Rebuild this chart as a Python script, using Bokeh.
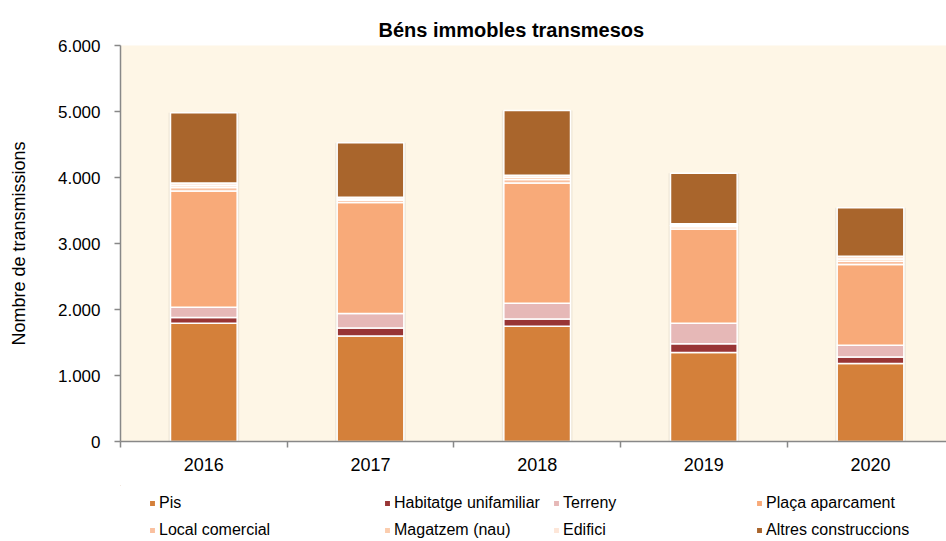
from bokeh.plotting import figure
from bokeh.models import Range1d, FixedTicker, Legend, LegendItem, ColumnDataSource
from bokeh.layouts import column
from bokeh.embed import file_html
from bokeh.resources import INLINE

years = ["2016", "2017", "2018", "2019", "2020"]
pis = [1790, 1600, 1745, 1350, 1180]
habitatge = [90, 120, 110, 130, 100]
terreny = [155, 220, 240, 310, 180]
placa = [1760, 1680, 1820, 1430, 1220]
local = [55, 35, 55, 35, 50]
magatzem = [30, 20, 35, 20, 35]
edifici = [35, 25, 30, 25, 40]
altres = [1065, 825, 980, 765, 735]

series_names = ["Pis", "Habitatge unifamiliar", "Terreny", "Plaça aparcament",
                "Local comercial", "Magatzem (nau)", "Edifici", "Altres construccions"]
series_keys = ["pis", "habitatge", "terreny", "placa", "local", "magatzem", "edifici", "altres"]
colors = ["#D4803A", "#983535", "#E6B8B7", "#F8AA79", "#FAC09F", "#FBCDAE", "#FDE6D8", "#A9652C"]

y_ticks = [0, 1000, 2000, 3000, 4000, 5000, 6000]
y_tick_labels = ["0", "1.000", "2.000", "3.000", "4.000", "5.000", "6.000"]

FONT = "Liberation Sans"

xpos = [i + 0.5 for i in range(len(years))]
data = dict(x=xpos, pis=pis, habitatge=habitatge, terreny=terreny, placa=placa,
            local=local, magatzem=magatzem, edifici=edifici, altres=altres)
data["total"] = [sum(v) for v in zip(pis, habitatge, terreny, placa, local, magatzem, edifici, altres)]
source = ColumnDataSource(data)

p = figure(width=946, height=485, output_backend="svg", toolbar_location=None,
           x_range=Range1d(0, 4.956), y_range=Range1d(0, 6000),
           min_border_left=120, min_border_right=0, min_border_top=45, min_border_bottom=44)
p.background_fill_color = "#FEF6E6"
p.border_fill_color = "white"
p.outline_line_color = None
p.xgrid.visible = False
p.ygrid.visible = False

# title
p.title.text = "Béns immobles transmesos"
p.title.text_font = FONT
p.title.text_font_size = "20px"
p.title.text_font_style = "bold"
p.title.align = "left"
p.title.offset = 258
p.title.standoff = 9
p.title.text_color = "black"

# shadow
p.vbar(x="x", top="total", bottom=0, width=0.425, source=source,
       fill_color="black", fill_alpha=0.06, line_color=None)

p.vbar_stack(series_keys, x="x", width=0.4, source=source,
             color=colors, line_color="white", line_width=1.5)

# y axis
ya = p.yaxis[0]
ya.ticker = FixedTicker(ticks=y_ticks, minor_ticks=[])
ya.major_label_overrides = {t: l for t, l in zip(y_ticks, y_tick_labels)}
ya.axis_line_color = "#888888"
ya.axis_line_width = 1.5
ya.major_tick_line_color = "#888888"
ya.major_tick_line_width = 1.5
ya.major_tick_out = 6
ya.major_tick_in = 0
ya.minor_tick_line_color = None
ya.major_label_text_font = FONT
ya.major_label_text_font_size = "17px"
ya.major_label_text_color = "black"
ya.major_label_standoff = 14
ya.axis_label = "Nombre de transmissions"
ya.axis_label_text_font = FONT
ya.axis_label_text_font_size = "18px"
ya.axis_label_text_font_style = "normal"
ya.axis_label_text_color = "black"
ya.axis_label_standoff = 26

# x axis
xa = p.xaxis[0]
xa.ticker = FixedTicker(ticks=xpos, minor_ticks=[i for i in range(len(years) + 1)])
xa.major_label_overrides = {x: y for x, y in zip(xpos, years)}
xa.axis_line_color = "#888888"
xa.axis_line_width = 1.5
xa.major_tick_line_color = None
xa.major_tick_out = 0
xa.major_tick_in = 0
xa.minor_tick_line_color = "#888888"
xa.minor_tick_line_width = 1.5
xa.minor_tick_out = 6
xa.minor_tick_in = 0
xa.major_label_text_font = FONT
xa.major_label_text_font_size = "18px"
xa.major_label_text_color = "black"
xa.major_label_standoff = 10

# legend strip (separate figure so the legend columns can be placed freely)
lg = figure(width=946, height=56, output_backend="svg", toolbar_location=None,
            x_range=Range1d(100, 101), y_range=Range1d(-20000, -10000),
            min_border_left=0, min_border_right=0, min_border_top=0, min_border_bottom=0,
            x_axis_location=None, y_axis_location=None)
lg.outline_line_color = None
lg.background_fill_color = "white"
lg.border_fill_color = "white"
lg.xgrid.visible = False
lg.ygrid.visible = False
lg_renderers = lg.vbar_stack(series_keys, x="x", width=0.4, source=source,
                             color=colors, line_color="white", line_width=1.5)

# column offsets measured from the (aligned) plot frame's left edge
col_x = [28, 263, 432, 635]
for c in range(4):
    items = []
    for r in range(2):
        idx = r * 4 + c
        items.append(LegendItem(label=series_names[idx], renderers=[lg_renderers[idx]]))
    leg = Legend(items=items, location=(col_x[c], 1), orientation="vertical",
                 glyph_width=8, glyph_height=8, label_height=20, label_standoff=3,
                 spacing=7, padding=0, margin=0,
                 label_text_font=FONT, label_text_font_size="16px", label_text_color="black",
                 border_line_color=None, background_fill_alpha=0)
    lg.add_layout(leg, "center")

layout = column(p, lg, spacing=0)
open("out.html", "w").write(file_html(layout, INLINE))
